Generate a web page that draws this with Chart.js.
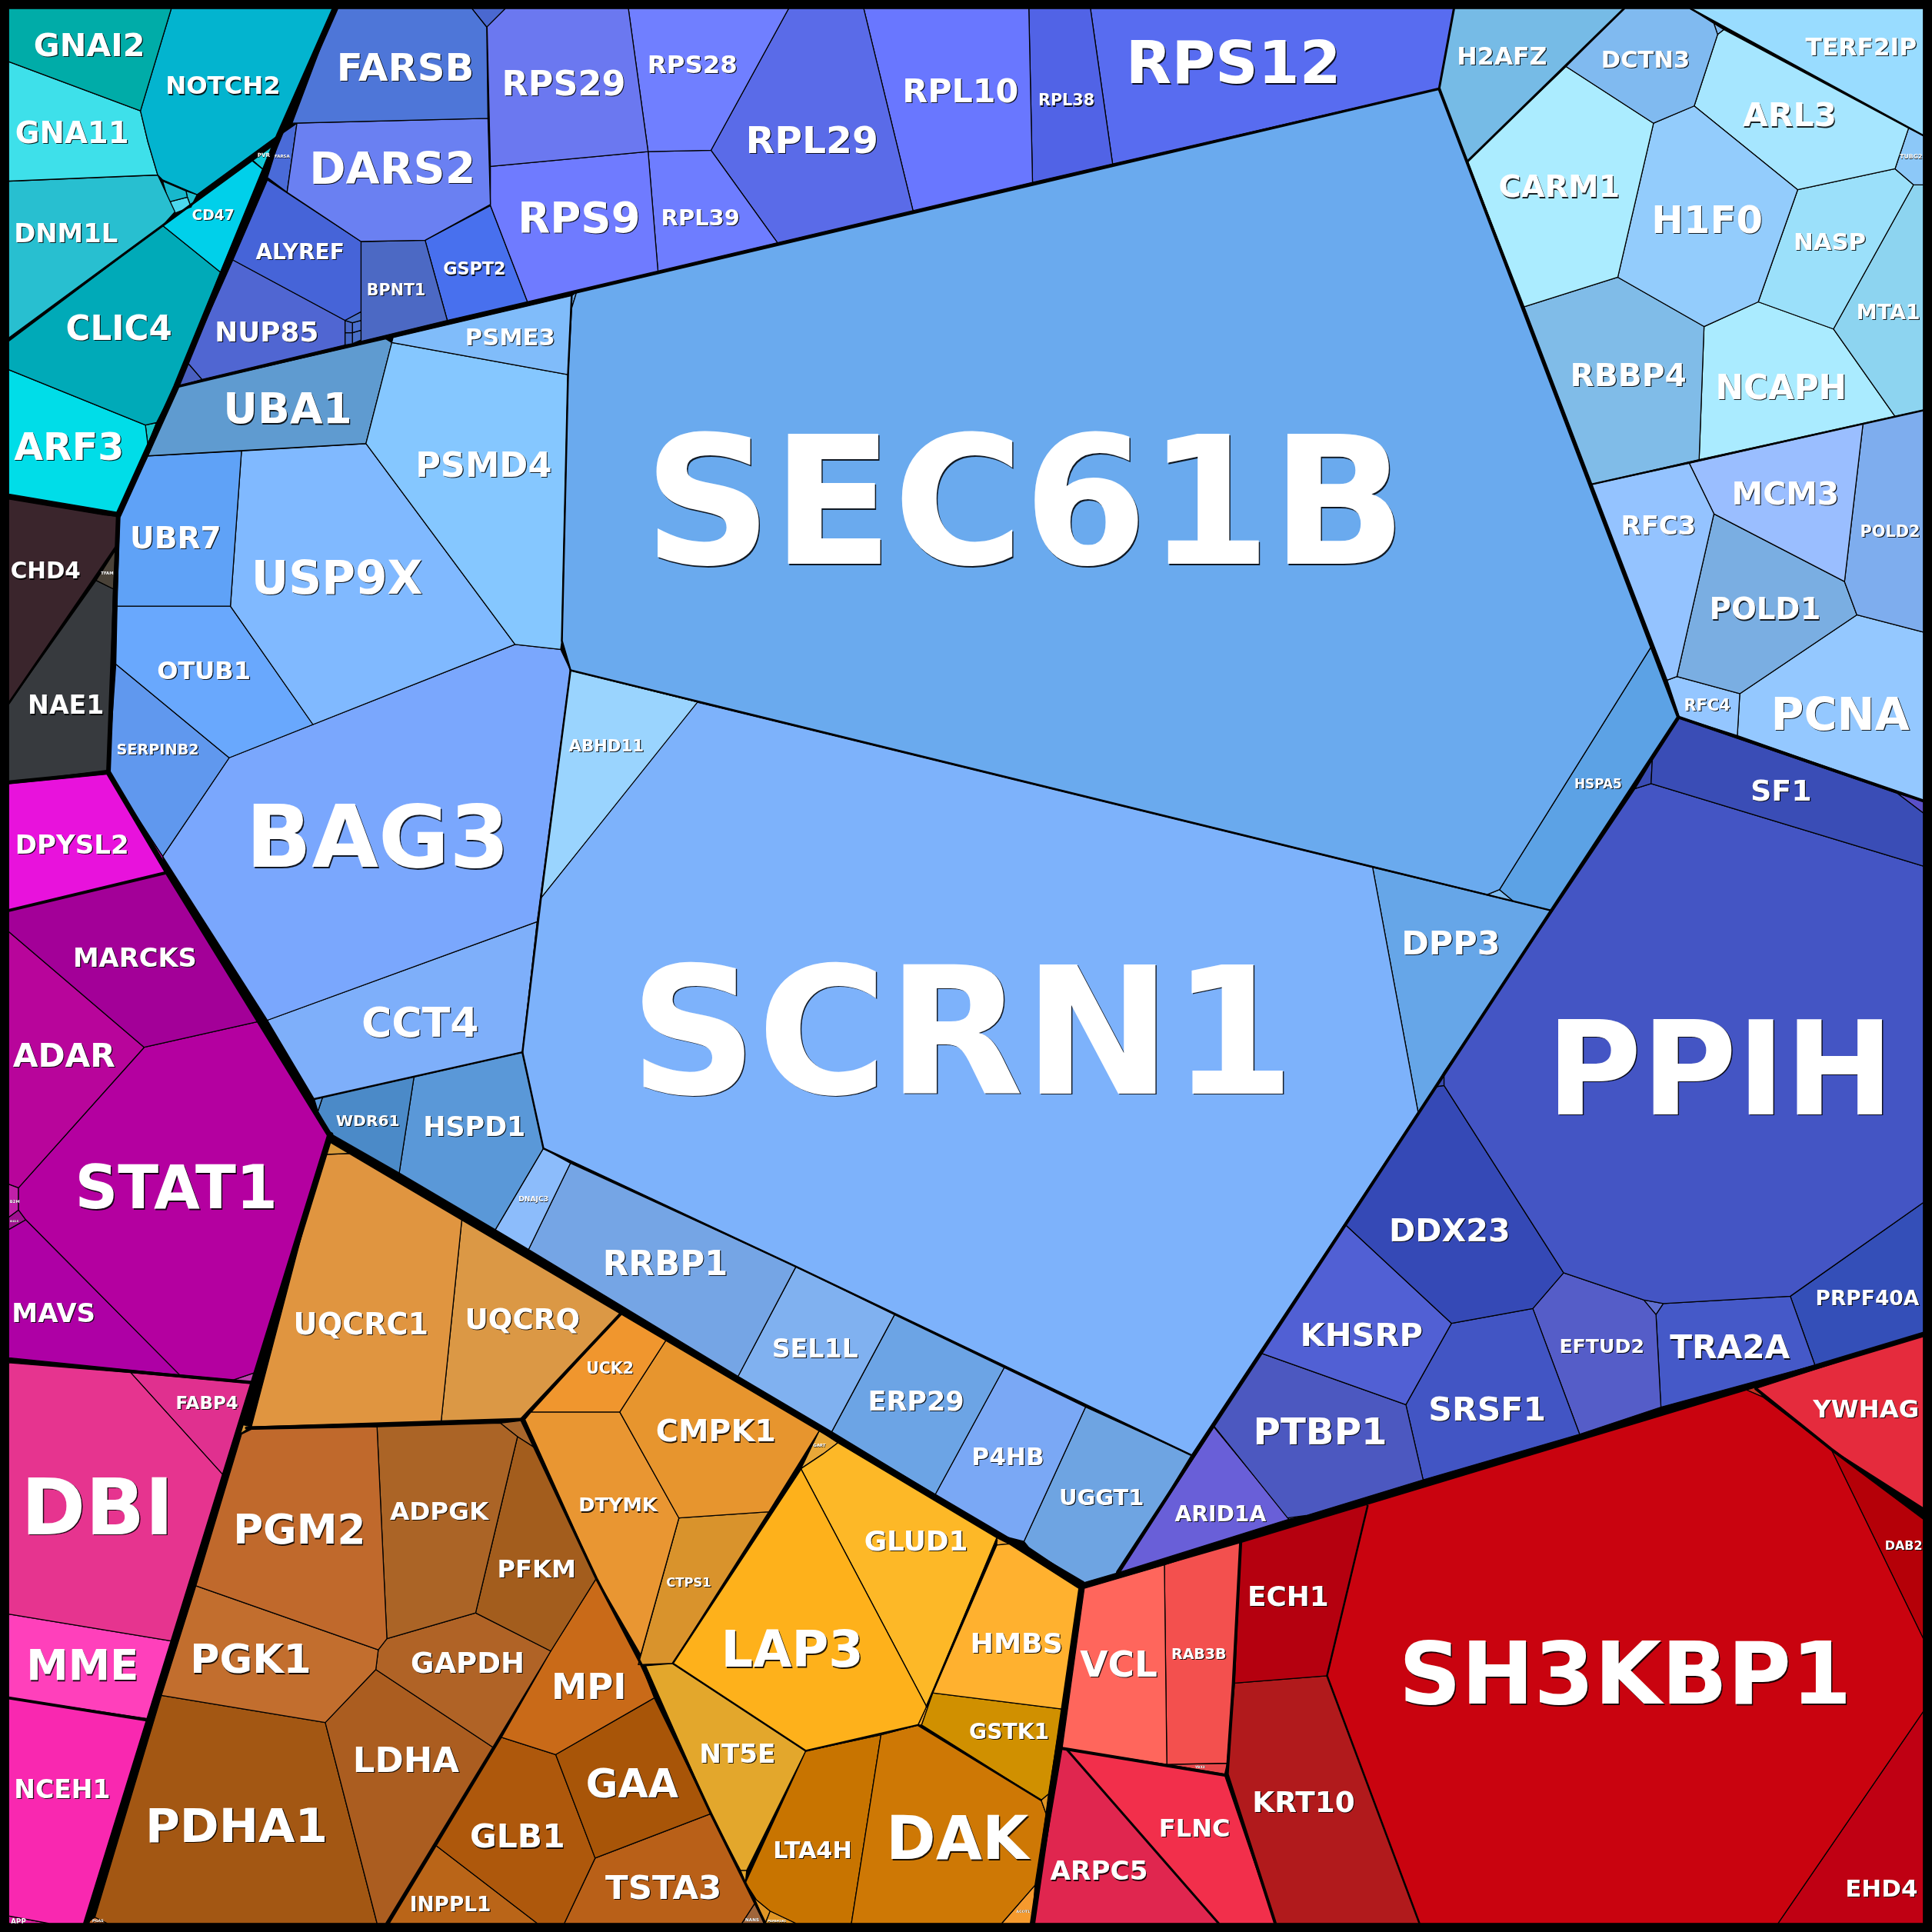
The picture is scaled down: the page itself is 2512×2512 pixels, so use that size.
<!DOCTYPE html>
<html>
<head>
<meta charset="utf-8">
<title>Voronoi treemap</title>
<script src="https://cdn.jsdelivr.net/npm/chart.js@4"></script>
<style>
  html, body { margin: 0; padding: 0; background: #000; }
  canvas { display: block; }
</style>
</head>
<body>
<canvas id="myChart" width="2512" height="2512"></canvas>
<script>
// cell outlines, in axis units
const cells = {
  // teal
  GNAI2: [[7,7],[139,7],[114,90],[7,50]],
  NOTCH2: [[139,7],[270,7],[227,109],[160,158],[132,146],[128,142],[120,115],[114,90]],
  GNA11: [[7,50],[114,90],[120,115],[128,142],[7,147]],
  DNM1L: [[7,147],[128,142],[142,172],[132,183],[7,275]],
  t1: [[132,147],[151,155],[152,160],[137,164]],
  t2: [[137,164],[152,160],[155,168],[142,173]],
  t2b: [[151,155],[160,158],[155,168],[152,160]],
  CD47: [[204,130],[214,138],[179,221],[132,183]],
  PVR: [[204,129],[225,115],[214,138]],
  CLIC4: [[132,183],[179,221],[142,314],[127,343],[118,345],[7,300],[7,277]],
  ARF3: [[7,300],[118,345],[120,361],[96,416],[7,401]],
  t3: [[118,345],[127,343],[120,361]],
  // dark
  CHD4: [[7,405],[85,418],[96,419],[94,444],[7,571]],
  TFAM: [[94,446],[78,471],[92,478]],
  NAE1: [[78,471],[92,478],[88,625],[7,635],[7,571]],
  // magenta
  DPYSL2: [[7,636],[87,628],[132,695],[135,708],[7,739]],
  MARCKS: [[7,739],[136,708],[210,829],[117,850],[7,756]],
  ADAR: [[7,756],[117,850],[15,964],[7,961]],
  STAT1: [[117,850],[210,829],[268,922],[207,1114],[189,1120],[146,1116],[21,990],[15,982],[15,964]],
  MAVS: [[7,998],[21,990],[146,1116],[7,1102]],
  B2M: [[7,961],[15,964],[15,982],[7,988]],
  ISG15: [[7,988],[15,982],[21,990],[7,998]],
  t4: [[189,1120],[207,1114],[205,1122]],
  // pink
  DBI: [[7,1106],[106,1114],[181,1197],[140,1332],[7,1310]],
  FABP4: [[106,1114],[204,1123],[181,1197]],
  MME: [[7,1310],[140,1332],[121,1395],[7,1378]],
  NCEH1: [[7,1378],[120,1396],[70,1561],[40,1561],[7,1555]],
  APP: [[7,1555],[40,1561],[7,1561]],
  // orange
  t5: [[268,925],[287,936],[262,937]],
  UQCRC1: [[262,937],[287,936],[375,988],[358,1154],[204,1158]],
  t16: [[192,1155],[204,1158],[193,1165]],
  UQCRQ: [[375,988],[505,1065],[423,1152],[358,1154]],
  UCK2: [[505,1065],[541,1087],[503,1146],[431,1146]],
  CMPK1: [[541,1087],[665,1161],[624,1227],[551,1232],[503,1146]],
  DTYMK: [[426,1152],[431,1146],[503,1146],[551,1232],[520,1343],[484,1281]],
  CTPS1: [[551,1232],[624,1227],[546,1350],[518,1351]],
  LAP3: [[650,1192],[752,1385],[745,1400],[715,1408],[654,1421],[546,1350]],
  GLUD1: [[650,1192],[668,1180],[680,1171],[809,1248],[752,1385]],
  GART: [[665,1161],[680,1171],[668,1180],[650,1192]],
  HMBS: [[809,1254],[819,1253],[877,1290],[862,1387],[757,1374]],
  t6: [[809,1248],[819,1253],[809,1254]],
  GSTK1: [[757,1374],[862,1387],[851,1456],[845,1461],[748,1400]],
  t7: [[752,1385],[757,1374],[748,1400],[745,1400]],
  t17: [[845,1461],[851,1456],[849,1472]],
  DAK: [[745,1400],[845,1461],[849,1472],[840,1530],[813,1561],[691,1561],[715,1408]],
  ACOT1: [[840,1530],[813,1561],[838,1561]],
  LTA4H: [[715,1408],[691,1561],[646,1561],[625,1551],[614,1542],[605,1528],[654,1421]],
  NT5E: [[546,1350],[654,1421],[606,1518],[601,1518],[577,1472],[524,1352]],
  t18: [[601,1518],[606,1518],[605,1528]],
  // brown
  PGM2: [[196,1164],[204,1160],[306,1158],[314,1330],[307,1339],[159,1287]],
  ADPGK: [[306,1158],[406,1155],[420,1166],[386,1309],[314,1330]],
  PFKM: [[420,1166],[434,1175],[484,1281],[447,1340],[386,1309]],
  t8: [[406,1155],[423,1153],[434,1175],[420,1166]],
  PGK1: [[159,1287],[307,1339],[305,1355],[264,1398],[131,1376]],
  GAPDH: [[314,1330],[386,1309],[447,1340],[400,1418],[305,1355],[307,1339]],
  LDHA: [[305,1355],[400,1418],[313,1561],[306,1561],[264,1398]],
  PDHA1: [[131,1376],[264,1398],[306,1561],[87,1561],[77,1556]],
  PGAS: [[77,1556],[87,1561],[70,1561]],
  MPI: [[484,1281],[520,1350],[531,1378],[451,1424],[407,1410],[447,1340]],
  GAA: [[451,1424],[531,1378],[577,1472],[483,1508]],
  GLB1: [[407,1410],[451,1424],[483,1508],[458,1561],[436,1561],[354,1498]],
  INPPL1: [[354,1498],[436,1561],[316,1561]],
  TSTA3: [[483,1508],[577,1472],[613,1544],[602,1561],[458,1561]],
  NANS: [[613,1544],[620,1561],[602,1561]],
  t9: [[605,1528],[614,1542],[625,1551],[621,1561],[612,1540]],
  PAFAH1B1: [[625,1551],[646,1561],[621,1561]],
  // reds
  VCL: [[880,1289],[945,1270],[947,1432],[862,1419]],
  RAB3B: [[945,1270],[1007,1250],[1001,1366],[996,1431],[947,1432]],
  YBX3: [[947,1432],[996,1431],[994,1440]],
  FLNC: [[866,1420],[994,1441],[1035,1561],[989,1561]],
  ARPC5: [[862,1419],[866,1420],[989,1561],[838,1561]],
  ECH1: [[1007,1250],[1105,1219],[1110,1222],[1077,1360],[1002,1366]],
  KRT10: [[1002,1366],[1077,1360],[1152,1561],[1035,1561],[995,1440]],
  SH3KBP1: [[1110,1222],[1105,1219],[1415,1127],[1431,1134],[1486,1176],[1561,1330],[1561,1389],[1443,1561],[1152,1561],[1077,1360]],
  DAB2: [[1486,1176],[1561,1232],[1561,1330]],
  EHD4: [[1561,1389],[1443,1561],[1561,1561]],
  YWHAG: [[1425,1127],[1561,1083],[1561,1224],[1486,1176]],
  t19: [[1415,1127],[1425,1125],[1431,1134]],
  // dark blue
  SF1: [[1363,583],[1540,644],[1561,660],[1561,703],[1340,636],[1341,617]],
  t10: [[1345,610],[1341,617],[1340,636],[1327,640]],
  t20: [[1540,644],[1561,650],[1561,660]],
  PPIH: [[1327,640],[1340,636],[1561,703],[1561,976],[1453,1052],[1350,1058],[1334,1055],[1269,1033],[1172,881],[1172,870]],
  t11: [[1172,870],[1172,881],[1165,882]],
  DDX23: [[1165,882],[1172,881],[1269,1033],[1244,1062],[1178,1074],[1092,994]],
  KHSRP: [[1092,994],[1178,1074],[1141,1140],[1023,1098]],
  PTBP1: [[1023,1098],[1141,1140],[1155,1201],[1060,1230],[1045,1232],[985,1157]],
  ARID1A: [[985,1158],[1041,1226],[1046,1233],[909,1276]],
  t21: [[1041,1226],[1060,1230],[1046,1233]],
  SRSF1: [[1178,1074],[1244,1062],[1282,1164],[1155,1201],[1141,1140]],
  EFTUD2: [[1244,1062],[1269,1033],[1334,1055],[1344,1067],[1348,1142],[1282,1164]],
  TRA2A: [[1344,1067],[1350,1058],[1453,1052],[1473,1108],[1348,1142]],
  t22: [[1334,1055],[1350,1058],[1344,1067]],
  PRPF40A: [[1453,1052],[1561,976],[1561,1083],[1473,1108]],
  // big blues
  SEC61B: [[468,237],[1168,72],[1340,525],[1217,722],[1207,726],[567,570],[463,544],[456,520],[461,304],[464,250]],
  t23: [[464,240],[468,237],[464,250]],
  SCRN1: [[566,570],[1114,704],[1151,903],[967,1181],[646,1028],[441,932],[424,854],[436,748],[439,729]],
  ABHD11: [[463,544],[567,570],[439,729]],
  DPP3: [[1114,704],[1259,739],[1151,903]],
  HSPA5: [[1340,525],[1362,582],[1259,739],[1229,732],[1217,722]],
  t12: [[1217,722],[1229,732],[1207,726]],
  PSME3: [[318,278],[319,274],[464,240],[461,304]],
  PSMD4: [[318,278],[461,304],[456,520],[455,527],[418,523],[297,360]],
  UBA1: [[143,314],[313,275],[318,278],[297,360],[120,370]],
  UBR7: [[120,370],[196,366],[187,492],[95,492],[97,417]],
  USP9X: [[196,366],[297,360],[418,523],[254,588],[187,492]],
  OTUB1: [[95,492],[187,492],[254,588],[186,615],[94,539]],
  SERPINB2: [[94,539],[186,615],[132,695],[88,627]],
  BAG3: [[186,615],[418,523],[455,527],[463,544],[436,748],[217,828],[132,695]],
  CCT4: [[217,828],[436,748],[424,854],[255,892]],
  t24: [[255,892],[262,890],[258,902]],
  WDR61: [[262,890],[336,874],[324,952],[268,920],[258,902]],
  HSPD1: [[336,874],[424,854],[441,932],[402,998],[324,952]],
  DNAJC3: [[441,932],[463,944],[429,1014],[402,998]],
  RRBP1: [[463,944],[646,1028],[599,1117],[429,1014]],
  SEL1L: [[646,1028],[726,1067],[675,1162],[599,1117]],
  ERP29: [[726,1067],[815,1110],[759,1213],[675,1162]],
  P4HB: [[815,1110],[881,1142],[831,1251],[815,1247],[759,1213]],
  UGGT1: [[881,1142],[967,1181],[909,1276],[878,1285],[835,1256],[831,1251]],
  // purple blues
  FARSB: [[272,7],[383,7],[395,22],[396,96],[237,100]],
  t13: [[383,7],[410,7],[395,22]],
  DARS2: [[241,100],[396,96],[398,166],[345,195],[293,196],[233,156]],
  FARSA: [[241,100],[233,156],[217,144],[228,109]],
  ALYREF: [[217,146],[293,196],[293,253],[280,260],[189,211]],
  NUP85: [[189,211],[280,260],[280,280],[164,308],[152,294]],
  n1: [[280,260],[287,256],[293,253],[293,260],[286,262]],
  n2: [[280,260],[286,262],[286,270],[280,270]],
  n3: [[286,262],[293,260],[293,268],[286,270]],
  n4: [[280,270],[286,270],[286,279],[280,280]],
  n5: [[286,270],[293,268],[293,276],[286,279]],
  t15: [[152,294],[164,308],[143,314]],
  BPNT1: [[293,196],[345,195],[363,260],[293,277]],
  GSPT2: [[345,195],[398,167],[428,245],[363,260]],
  RPS29: [[395,7],[510,7],[526,123],[398,135]],
  RPS9: [[398,135],[526,123],[534,220],[428,245],[398,167]],
  RPS28: [[510,7],[640,7],[577,122],[526,123]],
  RPL39: [[526,123],[577,122],[631,197],[534,220]],
  RPL29: [[640,7],[701,7],[741,171],[631,197],[577,122]],
  RPL10: [[701,7],[835,7],[838,148],[741,171]],
  RPL38: [[835,7],[885,7],[903,133],[838,148]],
  RPS12: [[885,7],[1180,7],[1168,72],[903,133]],
  // pale blues
  H2AFZ: [[1180,7],[1318,7],[1191,131],[1168,72]],
  DCTN3: [[1318,7],[1372,7],[1391,19],[1394,28],[1375,86],[1342,100],[1271,54]],
  t25: [[1391,19],[1399,24],[1394,28]],
  CARM1: [[1271,54],[1342,100],[1313,225],[1237,249],[1191,131]],
  H1F0: [[1342,100],[1375,86],[1459,154],[1427,245],[1383,265],[1313,225]],
  ARL3: [[1375,86],[1394,28],[1399,24],[1549,104],[1538,137],[1459,154]],
  TERF2IP: [[1372,7],[1561,7],[1561,110]],
  TUBG2: [[1549,104],[1561,110],[1561,150],[1553,150],[1538,137]],
  NASP: [[1459,154],[1538,137],[1553,150],[1488,267],[1427,245]],
  MTA1: [[1553,150],[1561,150],[1561,333],[1538,338],[1488,267]],
  RBBP4: [[1237,249],[1313,225],[1383,265],[1379,373],[1292,393]],
  NCAPH: [[1383,265],[1427,245],[1488,267],[1538,338],[1379,373]],
  RFC3: [[1292,393],[1371,376],[1391,417],[1361,549],[1353,552]],
  MCM3: [[1371,376],[1512,344],[1497,472],[1391,417]],
  POLD2: [[1512,344],[1561,333],[1561,513],[1507,499],[1497,472]],
  POLD1: [[1391,417],[1497,472],[1507,499],[1412,563],[1361,549]],
  RFC4: [[1353,552],[1361,549],[1412,563],[1410,597],[1363,582]],
  PCNA: [[1507,499],[1561,513],[1561,650],[1410,597],[1412,563]]
};

const cellColors = {
  GNAI2:'#00aca8', NOTCH2:'#03b4cf', GNA11:'#3ee0ea', DNM1L:'#28bfd0', t1:'#18b8cc', t2:'#4cd8ee', t2b:'#20c0d0', CD47:'#00d0ea', PVR:'#10c8d8', CLIC4:'#00aab8', ARF3:'#00dde8', t3:'#18c4c8',
  CHD4:'#3a252c', TFAM:'#4a4238', NAE1:'#373a3e',
  DPYSL2:'#e812dc', MARCKS:'#a30098', ADAR:'#b8059b', STAT1:'#b400a0', MAVS:'#ae00a5', B2M:'#c020a8', ISG15:'#a01090', t4:'#c040b0',
  DBI:'#e6348f', FABP4:'#e0308f', MME:'#ff40bb', NCEH1:'#f928b0', APP:'#e020a0',
  t5:'#d99a3a', t16:'#d99a3a', UQCRC1:'#e09540', UQCRQ:'#db9845', UCK2:'#f0962e', CMPK1:'#e7952e', DTYMK:'#e99632', CTPS1:'#d9932c', LAP3:'#feb11b', GLUD1:'#fdb827', GART:'#e8a838', HMBS:'#ffb12f', t6:'#e8a030', GSTK1:'#d09000', t7:'#e8a030', t17:'#e09525', DAK:'#ce7805', ACOT1:'#f59a2e', LTA4H:'#c87400', NT5E:'#e3a72c', t18:'#e3a72c',
  PGM2:'#c0692c', ADPGK:'#ab6426', PFKM:'#a35d1d', t8:'#a8662c', PGK1:'#c26e2e', GAPDH:'#b06326', LDHA:'#ab5d20', PDHA1:'#a35713', PGAS:'#c0692c', MPI:'#c96a18', GAA:'#a85508', GLB1:'#ae580c', INPPL1:'#ba6518', TSTA3:'#b96018', NANS:'#a0653a', t9:'#e09525', PAFAH1B1:'#e09525',
  VCL:'#ff665c', RAB3B:'#f3504e', YBX3:'#e8474a', FLNC:'#f22f4b', ARPC5:'#e0264f', ECH1:'#b5000f', KRT10:'#b11a1c', SH3KBP1:'#c9030f', DAB2:'#b50008', EHD4:'#bf0013', YWHAG:'#e52b3d', t19:'#c03020',
  SF1:'#3a4db6', t10:'#3a4cb4', t20:'#5a50c8', PPIH:'#4455c4', t11:'#3a4cb4', DDX23:'#3549b6', KHSRP:'#5160d4', PTBP1:'#4c58c0', ARID1A:'#695fd8', t21:'#5a68c8', SRSF1:'#4255c4', EFTUD2:'#555dc8', TRA2A:'#4559c8', t22:'#6070d0', PRPF40A:'#344fb8',
  SEC61B:'#6aaaee', t23:'#6aaaee', SCRN1:'#7db2fb', ABHD11:'#9ad4fe', DPP3:'#66a6e8', HSPA5:'#5ca2e5', t12:'#80bcf0', PSME3:'#80bcfa', PSMD4:'#85c7ff', UBA1:'#5f9bd0', UBR7:'#5fa2f7', USP9X:'#80b9ff', OTUB1:'#69a8fd', SERPINB2:'#6098ee', BAG3:'#7aa7fd', CCT4:'#7eaffa', t24:'#5a98d8', WDR61:'#4b8ac8', HSPD1:'#5a98d8', DNAJC3:'#8cbcfb', RRBP1:'#75a5e5', SEL1L:'#80b1f0', ERP29:'#6ca4e5', P4HB:'#7aa8f5', UGGT1:'#6ea4e2',
  FARSB:'#4e76d8', t13:'#4a68d0', DARS2:'#6a80f2', FARSA:'#4a6bd8', ALYREF:'#4664d8', NUP85:'#5066d2', n1:'#4a70c8', n2:'#4a68c8', n3:'#4a70d0', n4:'#4668c4', n5:'#4a70c8', t15:'#4a60c0', BPNT1:'#4c69c4', GSPT2:'#4870ee', RPS29:'#6b78f0', RPS9:'#6f7bff', RPS28:'#707fff', RPL39:'#6e7dff', RPL29:'#5a6be8', RPL10:'#6977ff', RPL38:'#5163e6', RPS12:'#586cf0',
  H2AFZ:'#76bbe6', DCTN3:'#80baf0', t25:'#80baf0', CARM1:'#abecff', H1F0:'#93ccfc', ARL3:'#a6e6ff', TERF2IP:'#99dcff', TUBG2:'#8cc8f8', NASP:'#9be0fa', MTA1:'#8dd4f0', RBBP4:'#80bce8', NCAPH:'#aaebff', RFC3:'#94c3ff', MCM3:'#9abeff', POLD2:'#7eadee', POLD1:'#7aaee2', RFC4:'#94c6ff', PCNA:'#94c8ff'
};

// hierarchy lines between cell groups
const groupLines = [
  [[272,7],[227,109],[143,314],[96,418]],
  [[96,418],[88,627]],
  [[7,403],[96,418]],
  [[7,635],[88,627]],
  [[88,627],[136,708],[268,922]],
  [[268,921],[70,1561]],
  [[268,925],[505,1065],[878,1285]],
  [[878,1285],[838,1561]],
  [[879,1287],[1007,1250],[1561,1083]],
  [[7,739],[136,708]],
  [[7,1104],[205,1122]],
  [[7,1378],[120,1396]],
  [[200,1159],[423,1152]],
  [[423,1152],[505,1065]],
  [[423,1152],[434,1175],[484,1281],[520,1350],[577,1472],[621,1561]],
  [[1007,1250],[1001,1366],[996,1440],[1035,1561]],
  [[862,1419],[996,1441]],
  [[1425,1127],[1486,1176],[1561,1232]],
  [[1168,72],[1362,582],[907,1276]],
  [[143,314],[468,237],[1168,72]],
  [[1180,7],[1168,72]],
  [[1362,582],[1561,650]],
  [[1318,7],[1191,131]],
  [[1372,7],[1561,110]],
  [[1292,393],[1561,333]],
  [[225,115],[132,183],[7,275]],
  [[985,1157],[907,1276]],
  [[463,544],[1259,739]],
  [[464,240],[461,304],[456,520],[463,544],[439,729],[424,854],[441,932],[646,1028],[967,1181]],
  [[255,892],[424,854]],
  [[1110,1222],[1077,1360],[1152,1561]],
  [[650,1192],[546,1350],[654,1421],[745,1400],[845,1461]],
  [[809,1250],[752,1385]],
  [[866,1420],[989,1561]],
  [[94,444],[7,571]]
];
const groupLineWidths = [8,6,6,5,7,8,7,7,7,4,4,4,4,4,3.5,4,4,4,4,3.5,3,4,3,2.5,2.5,3,3,2.5,2.5,2.5,2.5,2.5,2.5,3,3];

// label extents: left, right, vertical centre
const labelBoxes = {
  GNAI2:[28,117,36], NOTCH2:[135,227,69], GNA11:[13,104,107], DNM1L:[12,95,189], CD47:[156,190,174], CLIC4:[54,139,266], ARF3:[12,100,362], CHD4:[9,65,463], NAE1:[23,84,572], PVR:[209,219,126],
  TFAM:[82,92,465], DPYSL2:[13,104,685], MARCKS:[60,159,777], ADAR:[11,93,856], STAT1:[62,224,963], MAVS:[10,77,1065], B2M:[8,16,975], ISG15:[8,15,991], DBI:[18,140,1222], FABP4:[143,193,1138], MME:[22,112,1351], NCEH1:[12,89,1452], APP:[9,21,1559],
  UQCRC1:[239,347,1074], UQCRQ:[378,470,1070], UCK2:[476,514,1110], CMPK1:[533,629,1161], DTYMK:[470,533,1221], CTPS1:[541,577,1284], LAP3:[586,700,1338], GLUD1:[702,785,1250], HMBS:[788,862,1333], GSTK1:[787,851,1405], DAK:[720,834,1491], LTA4H:[628,691,1501], NT5E:[568,629,1423], GART:[660,670,1173], ACOT1:[825,836,1551], PAFAH1B1:[623,638,1559],
  PGM2:[190,296,1241], ADPGK:[317,396,1226], PFKM:[404,467,1273], PGK1:[155,252,1346], GAPDH:[334,425,1349], MPI:[448,508,1368], LDHA:[287,372,1428], PDHA1:[119,265,1481], GAA:[476,550,1447], GLB1:[382,458,1490], INPPL1:[333,398,1545], TSTA3:[492,585,1531], NANS:[605,616,1558], PGAS:[75,84,1559],
  VCL:[877,939,1350], RAB3B:[951,995,1342], YBX3:[970,978,1434], ECH1:[1013,1078,1295], KRT10:[1017,1099,1462], SH3KBP1:[1138,1500,1357], ARPC5:[853,931,1518], FLNC:[941,998,1483], YWHAG:[1472,1557,1143], DAB2:[1530,1560,1254], EHD4:[1498,1556,1532],
  ARID1A:[954,1027,1228], PTBP1:[1018,1125,1161], KHSRP:[1056,1154,1083], SRSF1:[1160,1254,1143], EFTUD2:[1266,1334,1092], TRA2A:[1356,1452,1093], PRPF40A:[1474,1557,1053], DDX23:[1128,1225,998], PPIH:[1257,1535,866], SF1:[1421,1470,641],
  SEC61B:[527,1137,405], SCRN1:[515,1047,835], BAG3:[201,412,678], USP9X:[205,342,468], PSMD4:[338,447,377], PSME3:[378,450,273], UBA1:[182,285,331], UBR7:[106,179,436], OTUB1:[128,203,544], SERPINB2:[95,161,608], CCT4:[294,388,829], WDR61:[273,324,909], HSPD1:[344,426,914], DNAJC3:[421,445,973], RRBP1:[490,590,1025], SEL1L:[627,696,1094], ERP29:[705,782,1137], P4HB:[789,847,1182], UGGT1:[860,928,1215], ABHD11:[462,522,605], DPP3:[1138,1217,765], HSPA5:[1278,1316,636],
  FARSB:[274,384,54], DARS2:[252,385,136], FARSA:[223,235,127], ALYREF:[208,279,204], BPNT1:[298,345,235], GSPT2:[360,410,218], NUP85:[175,258,269], RPS29:[408,507,67], RPS9:[421,519,176], RPS28:[526,598,52], RPL39:[537,600,176], RPL29:[606,712,113], RPL10:[733,826,73], RPL38:[843,888,81], RPS12:[915,1087,50],
  H2AFZ:[1183,1255,45], DCTN3:[1300,1371,48], CARM1:[1217,1314,151], H1F0:[1341,1430,178], ARL3:[1415,1490,93], TERF2IP:[1466,1555,38], TUBG2:[1542,1560,127], NASP:[1456,1514,196], MTA1:[1507,1558,253], RBBP4:[1275,1368,304], NCAPH:[1393,1498,314], RFC3:[1316,1376,426], MCM3:[1406,1492,400], POLD2:[1510,1558,431], POLD1:[1388,1477,494], RFC4:[1367,1404,572], PCNA:[1438,1549,579]
};

const toPoints = pts => pts.map(p => ({ x: p[0], y: p[1] }));

const lineSets = groupLines.map((pts, i) => ({
  label: 'group' + i,
  data: toPoints(pts),
  showLine: true,
  fill: false,
  borderColor: '#000',
  borderWidth: groupLineWidths[i],
  borderCapStyle: 'round',
  borderJoinStyle: 'round',
  pointRadius: 0
}));

const cellSets = Object.keys(cells).map(name => ({
  label: name,
  data: toPoints(cells[name].concat([cells[name][0]])),
  showLine: true,
  fill: 'shape',
  backgroundColor: cellColors[name],
  borderColor: '#000',
  borderWidth: 1.3,
  borderJoinStyle: 'round',
  pointRadius: 0
}));

// labels: white bold text fitted to the measured width, with a dark edge
const labelPlugin = {
  id: 'cellLabels',
  afterDatasetsDraw(chart) {
    const { ctx, scales: { x, y } } = chart;
    const innerLeft = x.getPixelForValue(7);
    const innerTop = y.getPixelForValue(7);
    const innerSize = x.getPixelForValue(1561) - innerLeft;
    ctx.save();
    ctx.beginPath();
    ctx.rect(innerLeft, innerTop, innerSize, innerSize);
    ctx.clip();
    ctx.textAlign = 'center';
    ctx.textBaseline = 'alphabetic';
    Object.keys(labelBoxes).forEach(name => {
      const box = labelBoxes[name];
      const left = x.getPixelForValue(box[0]);
      const right = x.getPixelForValue(box[1]);
      const mid = y.getPixelForValue(box[2]);
      ctx.font = 'bold 100px "DejaVu Sans"';
      // box widths are ink widths, slightly less than the text advance
      const size = 101.5 * (right - left) / ctx.measureText(name).width;
      ctx.font = 'bold ' + size.toFixed(2) + 'px "DejaVu Sans"';
      const base = mid + size * 0.729 / 2;
      const cx = (left + right) / 2;
      const off = size > 60 ? 1.5 : size > 14 ? 1.2 : 0.4;
      ctx.fillStyle = 'rgba(0,0,0,0.85)';
      ctx.fillText(name, cx + off, base + off);
      ctx.fillStyle = '#fff';
      ctx.fillText(name, cx, base);
    });
    ctx.restore();
  }
};

new Chart(document.getElementById('myChart').getContext('2d'), {
  type: 'scatter',
  data: { datasets: lineSets.concat(cellSets) },
  plugins: [labelPlugin],
  options: {
    responsive: false,
    animation: false,
    layout: { padding: 0 },
    elements: { line: { tension: 0 } },
    plugins: { legend: { display: false }, tooltip: { enabled: false } },
    scales: {
      x: { type: 'linear', display: false, min: 0, max: 1568 },
      y: { type: 'linear', display: false, min: 0, max: 1568, reverse: true }
    }
  }
});
</script>
</body>
</html>
